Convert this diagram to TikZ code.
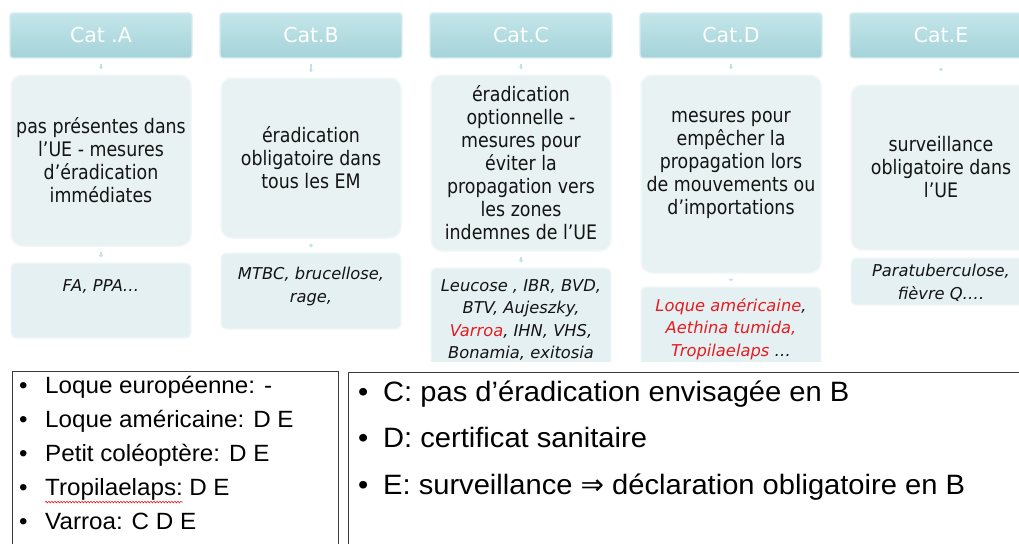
\documentclass[tikz,border=0pt]{standalone}
\usepackage{fontspec}
\setmainfont{DejaVu Sans}
\newfontfamily\headfont{DejaVu Sans}
\newfontfamily\bodyfont[FakeStretch=0.87]{DejaVu Sans}
\newfontfamily\obfont{DejaVu Sans Oblique}
\newfontfamily\lfont[FakeStretch=1.03]{Liberation Sans}
\newfontfamily\rfont[FakeStretch=1.04]{Liberation Sans}
\newfontfamily\symfont{DejaVu Sans}
\usetikzlibrary{arrows.meta,decorations.pathmorphing}
\definecolor{headtop}{RGB}{196,230,234}
\definecolor{headbot}{RGB}{164,211,217}
\definecolor{headedge}{RGB}{214,237,240}
\definecolor{bodyfill}{RGB}{232,242,243}
\definecolor{bodyedge}{RGB}{242,248,249}
\definecolor{botfill}{RGB}{229,240,242}
\definecolor{stubcol}{RGB}{196,226,230}
\definecolor{txt}{RGB}{20,20,20}
\definecolor{redtxt}{RGB}{228,28,32}
\definecolor{frame}{RGB}{60,60,60}
\tikzset{
  head/.style={rounded corners=3pt, draw=headedge, line width=1.2pt,
    top color=headtop, bottom color=headbot, minimum width=182pt,
    minimum height=45pt, inner sep=0pt, text=white,
    font=\headfont\fontsize{20.5}{24}\selectfont},
  body/.style={rounded corners=11pt, draw=bodyedge, line width=1.5pt,
    fill=bodyfill, minimum width=180pt, inner sep=0pt, align=center,
    text=txt, font=\bodyfont\fontsize{20}{23}\selectfont},
  bot/.style={rounded corners=5pt, draw=bodyedge, line width=1.2pt,
    fill=botfill, minimum width=180pt, inner sep=0pt},
  bottxt/.style={anchor=north, inner sep=0pt, align=center, text=txt,
    font=\obfont\fontsize{16.3}{22.6}\selectfont},
  stub/.style={draw=stubcol, line width=1.6pt,
    -{Triangle[length=2.5pt,width=4.5pt]}, shorten <=5pt, shorten >=5pt},
  outer/.style={draw=frame, line width=1.2pt, anchor=north west, inner sep=0pt},
  ltxt/.style={anchor=base west, inner sep=0pt, text=black,
    font=\lfont\fontsize{23.5}{27}\selectfont},
  rtxt/.style={anchor=base west, inner sep=0pt, text=black,
    font=\rfont\fontsize{28}{32}\selectfont},
  wavy/.style={draw=redtxt, line width=0.6pt,
    decorate, decoration={snake, amplitude=0.8pt, segment length=3pt}}
}
\begin{document}
\begin{tikzpicture}[x=1pt,y=-1pt]
\useasboundingbox (0,0) rectangle (1019,543);
\fill[white] (0,0) rectangle (1019,543);
% headers
\node[head] (hA) at (101,35.5) {Cat .A};
\node[head] (hB) at (311,35.5) {Cat.B};
\node[head] (hC) at (521,35.5) {Cat.C};
\node[head] (hD) at (731,35.5) {Cat.D};
\node[head] (hE) at (941,35.5) {Cat.E};
% bodies
\node[body, minimum height=171pt] (bA) at (101,160.5)
  {pas présentes dans\\l’UE - mesures\\d’éradication\\immédiates};
\node[body, minimum height=160pt] (bB) at (311,158)
  {éradication\\obligatoire dans\\tous les EM};
\node[body, minimum height=176pt] (bC) at (521,163)
  {éradication\\optionnelle -\\mesures pour\\éviter la\\propagation vers\\les zones\\indemnes de l’UE};
\node[body, minimum height=198pt] (bD) at (731,174) {};
\node[inner sep=0pt, align=center, text=txt, font=\bodyfont\fontsize{20}{23}\selectfont] (tD) at (731,164.5)
  {mesures pour\\empêcher la\\propagation lors\\de mouvements ou\\d’importations};
\node[body, minimum height=165pt] (bE) at (941,167.5)
  {surveillance\\obligatoire dans\\l’UE};
% bottom boxes
\node[bot, minimum height=75pt] (cA) at (101,300.5) {};
\node[bot, minimum height=76pt] (cB) at (311,291) {};
\node[bot, minimum height=112pt] (cC) at (521,324) {};
\node[bot, minimum height=93pt] (cD) at (731,333.5) {};
\node[bot, minimum height=47pt] (cE) at (941,281.5) {};
\node[bottxt] (tA) at (101,279) {FA, PPA…};
\node[bottxt] (tB) at (311,267) {MTBC, brucellose,\\rage,};
\node[bottxt, font=\obfont\fontsize{16.3}{22.3}\selectfont] (tC) at (521,279.5) {Leucose , IBR, BVD,\\BTV, Aujeszky,\\\textcolor{redtxt}{Varroa}, IHN, VHS,\\Bonamia, exitosia};
\node[bottxt] (tDD) at (731,298) {\textcolor{redtxt}{Loque américaine},\\\textcolor{redtxt}{Aethina tumida,}\\\textcolor{redtxt}{Tropilaelaps} …};
\node[bottxt] (tE) at (941,264) {Paratuberculose,\\fièvre Q….};
% stubs
\draw[stub] (hA) -- (bA);
\draw[stub] (hB) -- (bB);
\draw[stub] (hC) -- (bC);
\draw[stub] (hD) -- (bD);
\draw[stub, shorten <=9pt, shorten >=13pt] (hE) -- (bE);
\draw[stub] (bA) -- (cA);
\draw[stub] (bB) -- (cB);
\draw[stub] (bC) -- (cC);
\draw[stub] (bD) -- (cD);
% cover
\fill[white] (0,362) rectangle (1019,543);
% lower text boxes
\node[outer, minimum width=326pt, minimum height=200pt] (L) at (12,371) {};
\node[outer, minimum width=700pt, minimum height=200pt] (R) at (348,372) {};
\node[ltxt] (l1b) at (19,393) {•};
\node[ltxt] (l1) at (45,393) {Loque européenne: -};
\node[ltxt] (l2b) at (19,427) {•};
\node[ltxt] (l2) at (45,427) {Loque américaine: D E};
\node[ltxt] (l3b) at (19,461) {•};
\node[ltxt] (l3) at (45,461) {Petit coléoptère: D E};
\node[ltxt] (l4b) at (19,495) {•};
\node[ltxt] (l4) at (45,495) {Tropilaelaps:};
\node[ltxt, anchor=base west] (l4c) at ([xshift=6pt]l4.base east) {D E};
\node[ltxt] (l5b) at (19,529) {•};
\node[ltxt] (l5) at (45,529) {Varroa: C D E};
\draw[wavy] ([yshift=-2pt]l4.south west) -- ([yshift=-2pt]l4.south east);
\node[rtxt] (r1b) at (358,401) {•};
\node[rtxt] (r1) at (383,401) {C: pas d’éradication envisagée en B};
\node[rtxt] (r2b) at (358,447) {•};
\node[rtxt] (r2) at (383,447) {D: certificat sanitaire};
\node[rtxt] (r3b) at (358,494) {•};
\node[rtxt] (r3) at (383,494) {E: surveillance {\symfont\fontsize{28}{32}\selectfont ⇒} déclaration obligatoire en B};
\end{tikzpicture}
\end{document}
